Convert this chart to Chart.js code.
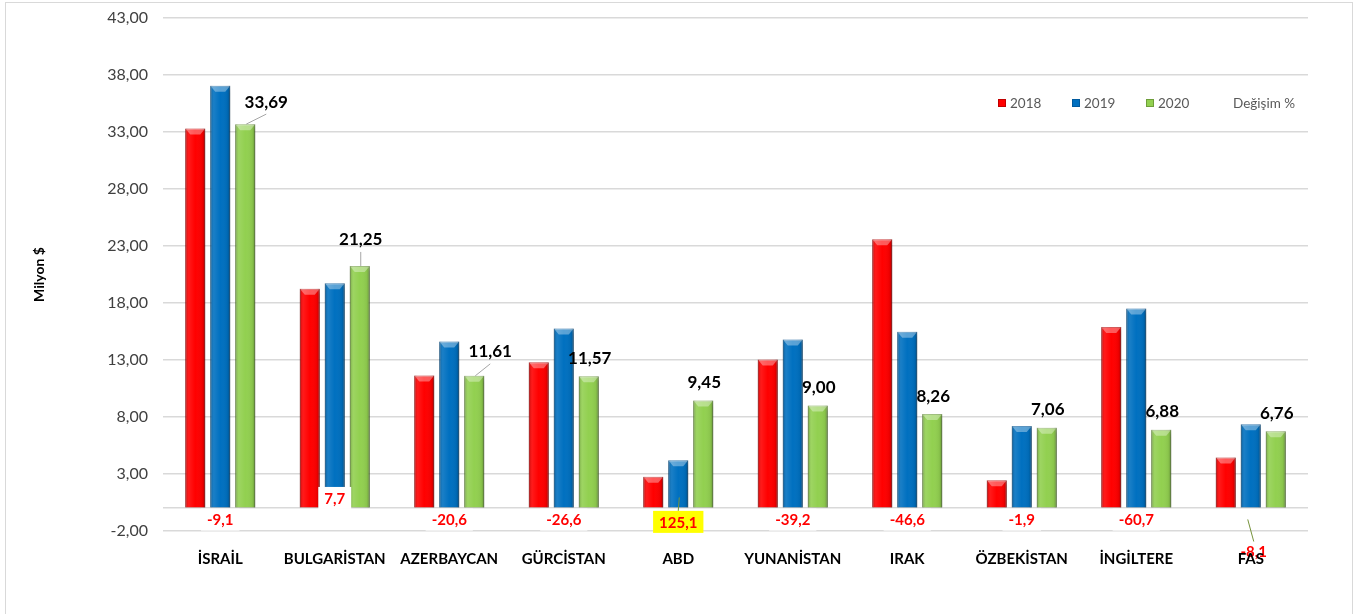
<!DOCTYPE html>
<html>
<head>
<meta charset="utf-8">
<script src="https://cdn.jsdelivr.net/npm/chart.js"></script>
<style>
  html, body { margin: 0; padding: 0; background: #fff; }
  canvas { display: block; }
</style>
</head>
<body>
<canvas id="chart" width="1360" height="614"></canvas>
<script>
// data
const countries = ['İSRAİL', 'BULGARİSTAN', 'AZERBAYCAN', 'GÜRCİSTAN', 'ABD', 'YUNANİSTAN', 'IRAK', 'ÖZBEKİSTAN', 'İNGİLTERE', 'FAS'];
const years = ['2018', '2019', '2020'];
const values2018 = [33.3, 19.25, 11.65, 12.8, 2.75, 13.05, 23.6, 2.45, 15.9, 4.45];
const values2019 = [37.06, 19.73, 14.62, 15.76, 4.2, 14.8, 15.47, 7.2, 17.51, 7.36];
const values2020 = [33.69, 21.25, 11.61, 11.57, 9.45, 9.0, 8.26, 7.06, 6.88, 6.76];
const changePct = [-9.1, 7.7, -20.6, -26.6, 125.1, -39.2, -46.6, -1.9, -60.7, -8.1];
const yTicks = [-2, 3, 8, 13, 18, 23, 28, 33, 38, 43];

const fmt = (v, d) => v.toFixed(d).replace('.', ',');

// label placement (style only)
const valueLabelShift = { 0: [21, -4, true], 1: [1, -8, true], 2: [16, -6, true] };
const changeLabelY = { 1: 0.9, 4: -1.2, 9: -3.8 };
const changeLabelDX = { 9: 3 };

const barColors = ['#FF0000', '#0070C0', '#92D050'];
const barBorders = ['#C00000', '#005A9E', '#6E9E3A'];

const decor = {
    id: 'decor',
    beforeDraw(chart) {
        const ctx = chart.ctx;
        ctx.save();
        ctx.fillStyle = '#fff';
        ctx.fillRect(0, 0, chart.width, chart.height);
        ctx.strokeStyle = '#d9d9d9';
        ctx.lineWidth = 1;
        ctx.strokeRect(5.5, 2.5, 1347, 700);
        ctx.restore();
    },
    beforeDatasetDraw(chart) {
        const ctx = chart.ctx;
        ctx.save();
        ctx.shadowColor = 'rgba(0,0,0,0.28)';
        ctx.shadowBlur = 4;
        ctx.shadowOffsetX = 1;
        ctx.shadowOffsetY = 3;
    },
    afterDatasetDraw(chart, args) {
        const ctx = chart.ctx;
        ctx.restore();
        // bevel look on every bar
        const meta = chart.getDatasetMeta(args.index);
        meta.data.forEach(bar => {
            const p = bar.getProps(['x', 'y', 'base', 'width'], true);
            const left = p.x - p.width / 2, right = p.x + p.width / 2;
            const g = ctx.createLinearGradient(left, 0, right, 0);
            g.addColorStop(0, 'rgba(0,0,0,0.22)');
            g.addColorStop(0.18, 'rgba(255,255,255,0.10)');
            g.addColorStop(0.5, 'rgba(255,255,255,0)');
            g.addColorStop(0.85, 'rgba(0,0,0,0.06)');
            g.addColorStop(1, 'rgba(0,0,0,0.28)');
            ctx.save();
            ctx.fillStyle = g;
            ctx.fillRect(left, p.y, p.width, p.base - p.y);
            ctx.fillStyle = 'rgba(255,255,255,0.35)';
            ctx.beginPath();
            ctx.moveTo(left, p.y);
            ctx.lineTo(right, p.y);
            ctx.lineTo(right - 5, p.y + 6);
            ctx.lineTo(left + 5, p.y + 6);
            ctx.closePath();
            ctx.fill();
            ctx.restore();
        });
    },
    afterDatasetsDraw(chart) {
        const ctx = chart.ctx;
        const yScale = chart.scales.y;
        const greens = chart.getDatasetMeta(2).data;
        const blues = chart.getDatasetMeta(1).data;
        ctx.save();
        // 2020 value labels
        ctx.font = 'bold 17px Lato';
        ctx.textAlign = 'center';
        ctx.textBaseline = 'middle';
        greens.forEach((bar, i) => {
            const s = valueLabelShift[i] || [1, 0, false];
            const lx = bar.x + s[0], ly = bar.y - 18 + s[1];
            if (s[2]) {
                ctx.strokeStyle = '#a6a6a6';
                ctx.lineWidth = 1;
                ctx.beginPath();
                ctx.moveTo(bar.x + 1, bar.y);
                ctx.lineTo(lx, ly + 12);
                ctx.stroke();
            }
            ctx.fillStyle = '#000';
            ctx.fillText(fmt(values2020[i], 2), lx, ly);
        });
        // change % labels
        ctx.font = 'bold 15px Lato';
        blues.forEach((bar, i) => {
            const val = changeLabelY[i] !== undefined ? changeLabelY[i] : -1;
            const lx = bar.x + (changeLabelDX[i] || 0);
            const ly = yScale.getPixelForValue(val);
            const txt = fmt(changePct[i], 1);
            const w = ctx.measureText(txt).width + 12;
            if (i === 4 || i === 9) {
                ctx.strokeStyle = '#77933C';
                ctx.lineWidth = 1;
                ctx.beginPath();
                if (i === 4) {
                    ctx.moveTo(bar.x + 1, bar.base - 10);
                    ctx.lineTo(lx, ly - 11);
                } else {
                    ctx.moveTo(bar.x - 3, bar.base + 12);
                    ctx.lineTo(bar.x + 3, ly - 10);
                }
                ctx.stroke();
            }
            if (i !== 9) {
                ctx.fillStyle = i === 4 ? '#FFFF00' : '#fff';
                ctx.fillRect(lx - w / 2, ly - 11, w, 22);
            }
            ctx.fillStyle = '#FF0000';
            ctx.fillText(txt, lx, ly + 1);
        });
        // legend
        ctx.font = '13.5px Lato';
        ctx.textAlign = 'left';
        const legendX = [998, 1072, 1146];
        years.forEach((yr, k) => {
            ctx.fillStyle = barColors[k];
            ctx.fillRect(legendX[k], 99, 8, 8);
            ctx.strokeStyle = barBorders[k];
            ctx.strokeRect(legendX[k] + 0.5, 99.5, 7, 7);
            ctx.fillStyle = '#595959';
            ctx.fillText(yr, legendX[k] + 12, 104);
        });
        ctx.fillText('Değişim %', 1233, 104);
        ctx.restore();
    }
};

const ctx = document.getElementById('chart').getContext('2d');
Chart.defaults.font.family = 'Lato';

new Chart(ctx, {
    type: 'bar',
    data: {
        labels: countries,
        datasets: [values2018, values2019, values2020].map((vals, k) => ({
            label: years[k],
            data: vals,
            backgroundColor: barColors[k],
            borderColor: barBorders[k],
            borderWidth: 1,
            barPercentage: 0.8,
            categoryPercentage: 0.655
        }))
    },
    options: {
        responsive: false,
        animation: false,
        layout: { padding: { left: 0, top: 18, right: 52, bottom: 0 } },
        plugins: {
            legend: { display: false },
            tooltip: { enabled: false }
        },
        scales: {
            x: {
                grid: { display: false },
                border: { display: false },
                ticks: {
                    z: 1,
                    color: '#000',
                    font: { size: 15, weight: 'bold' },
                    padding: 11,
                    maxRotation: 0,
                    autoSkip: false
                },
                afterFit(scale) { scale.height = 83; }
            },
            y: {
                min: -2,
                max: 43,
                border: { display: false },
                grid: { color: '#d9d9d9', lineWidth: 1.5, drawTicks: false },
                afterBuildTicks(scale) {
                    scale.ticks = yTicks.concat([0]).sort((a, b) => a - b).map(v => ({ value: v }));
                },
                ticks: {
                    color: '#404040',
                    font: { size: 16 },
                    padding: 15,
                    autoSkip: false,
                    callback: v => (v === 0 ? '' : fmt(v, 2))
                },
                title: {
                    display: true,
                    text: 'Milyon $',
                    color: '#000',
                    font: { size: 14, weight: 'bold' },
                    padding: { top: 31, bottom: 0 }
                },
                afterFit(scale) {
                    scale.width = 163;
                    scale.paddingTop = 0;
                    scale.paddingBottom = 0;
                }
            }
        }
    },
    plugins: [decor]
});
</script>
</body>
</html>
